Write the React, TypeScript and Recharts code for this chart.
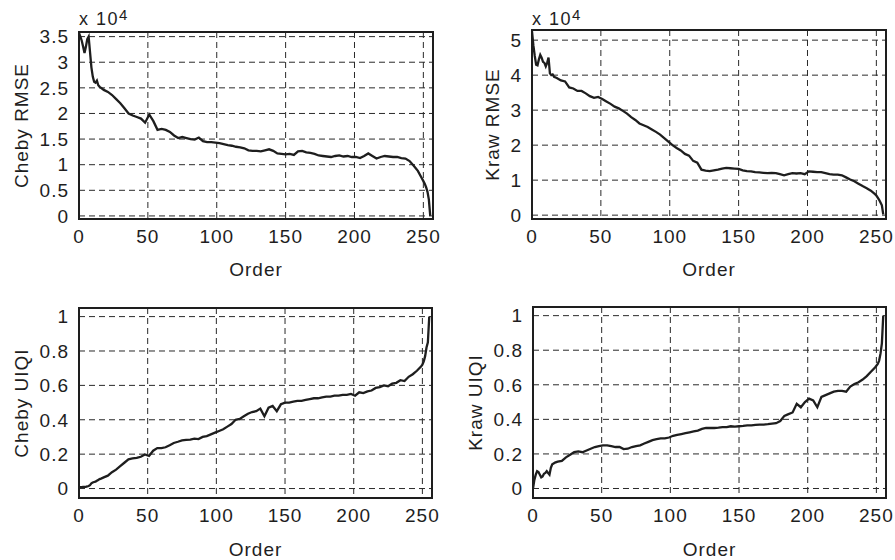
import { LineChart, Line, XAxis, YAxis, CartesianGrid, ReferenceArea } from 'recharts'

const ORDERS = [
  0, 1, 2, 3, 4, 5, 6, 7, 8, 9, 10, 11, 12, 13, 14, 15, 16,
  18, 21, 24, 27, 30, 33, 36, 39, 42, 45, 48, 51, 54, 57, 60, 63, 66, 69, 72, 75, 78,
  81, 84, 87, 90, 93, 96, 99, 102, 105, 108, 111, 114, 117, 120, 123, 126, 129, 132,
  135, 138, 141, 144, 147, 150, 153, 156, 159, 162, 165, 168, 171, 174, 177, 180, 183,
  186, 189, 192, 195, 198, 201, 204, 207, 210, 213, 216, 219, 222, 225, 228, 231, 234,
  237, 240, 243, 246, 249,
  250, 251, 252, 253, 254, 255,
]

// RMSE values are in units of 10^4
const CHEBY_RMSE = [
  3.57, 3.5, 3.42, 3.3, 3.18, 3.3, 3.45, 3.5, 3.2, 2.9, 2.72, 2.62, 2.6, 2.64, 2.55, 2.52, 2.5,
  2.46, 2.42, 2.36, 2.28, 2.2, 2.1, 2.0, 1.96, 1.93, 1.9, 1.82, 1.98, 1.85, 1.68, 1.7, 1.68, 1.64, 1.57, 1.52, 1.54, 1.52,
  1.5, 1.49, 1.53, 1.46, 1.44, 1.44, 1.43, 1.42, 1.4, 1.38, 1.37, 1.35, 1.34, 1.32, 1.28, 1.27, 1.27, 1.26,
  1.28, 1.3, 1.27, 1.22, 1.21, 1.2, 1.21, 1.19, 1.26, 1.27, 1.24, 1.23, 1.21, 1.18, 1.17, 1.16, 1.15,
  1.17, 1.18, 1.16, 1.17, 1.15, 1.15, 1.13, 1.17, 1.22, 1.17, 1.12, 1.15, 1.17, 1.16, 1.15, 1.15, 1.13,
  1.12, 1.07, 0.98, 0.88, 0.73,
  0.68, 0.63, 0.56, 0.47, 0.32, 0.0,
]

const KRAW_RMSE = [
  5.25, 4.85, 4.55, 4.3, 4.28, 4.45, 4.58, 4.5, 4.38, 4.35, 4.25, 4.35, 4.5, 4.05, 4.0, 4.02, 3.95,
  3.92, 3.85, 3.82, 3.65, 3.62, 3.55, 3.55, 3.48, 3.4, 3.35, 3.38, 3.32, 3.25, 3.18, 3.1, 3.05, 2.98, 2.9, 2.8, 2.72, 2.62,
  2.57, 2.52, 2.45, 2.38, 2.3, 2.2, 2.1, 2.0, 1.92, 1.85, 1.75, 1.7, 1.55, 1.5, 1.3, 1.27, 1.26, 1.28,
  1.3, 1.33, 1.35, 1.34, 1.33, 1.32, 1.28, 1.26, 1.25, 1.23, 1.22, 1.21, 1.2, 1.21, 1.2, 1.17, 1.14,
  1.17, 1.2, 1.19, 1.2, 1.17, 1.25, 1.24, 1.23, 1.23, 1.2, 1.17, 1.16, 1.16, 1.14, 1.08, 1.02, 0.97,
  0.9, 0.83, 0.77, 0.7, 0.6,
  0.56, 0.5, 0.44, 0.36, 0.28, 0.02,
]

const CHEBY_UIQI = [
  0.005, 0.008, 0.008, 0.01, 0.01, 0.01, 0.012, 0.015, 0.02, 0.03, 0.035, 0.038, 0.04, 0.045, 0.05, 0.055, 0.058,
  0.065, 0.075, 0.095, 0.11, 0.13, 0.15, 0.17, 0.175, 0.178, 0.185, 0.198, 0.19, 0.22, 0.235, 0.235, 0.24, 0.252, 0.265, 0.272, 0.28, 0.283,
  0.285, 0.29, 0.288, 0.3, 0.305, 0.315, 0.325, 0.335, 0.345, 0.36, 0.375, 0.4, 0.405, 0.42, 0.435, 0.445, 0.45, 0.465,
  0.42, 0.47, 0.48, 0.45, 0.49, 0.5, 0.5, 0.505, 0.51, 0.51, 0.515, 0.52, 0.525, 0.525, 0.53, 0.535, 0.535,
  0.54, 0.54, 0.545, 0.545, 0.55, 0.54, 0.56, 0.555, 0.565, 0.57, 0.585, 0.59, 0.6, 0.595, 0.61, 0.615, 0.63,
  0.625, 0.65, 0.665, 0.685, 0.71,
  0.72, 0.74, 0.77, 0.82, 0.85, 1.0,
]

const KRAW_UIQI = [
  0.0, 0.05, 0.08, 0.1, 0.095, 0.08, 0.065, 0.07, 0.085, 0.09, 0.1, 0.09, 0.08, 0.12, 0.14, 0.145, 0.15,
  0.155, 0.16, 0.18, 0.195, 0.21, 0.215, 0.21, 0.22, 0.23, 0.24, 0.245, 0.25, 0.25, 0.245, 0.24, 0.24, 0.228, 0.23, 0.24, 0.245, 0.25,
  0.26, 0.27, 0.28, 0.285, 0.29, 0.29, 0.295, 0.305, 0.31, 0.315, 0.32, 0.325, 0.33, 0.335, 0.345, 0.35, 0.35, 0.35,
  0.352, 0.355, 0.355, 0.36, 0.358, 0.36, 0.362, 0.365, 0.365, 0.368, 0.37, 0.37, 0.372, 0.375, 0.378, 0.39, 0.42,
  0.43, 0.44, 0.49, 0.47, 0.5, 0.52, 0.51, 0.47, 0.53, 0.54, 0.55, 0.56, 0.565, 0.565, 0.56, 0.59, 0.605,
  0.615, 0.63, 0.65, 0.675, 0.7,
  0.71, 0.72, 0.74, 0.78, 0.84, 1.0,
]

const X_TICKS = [0, 50, 100, 150, 200, 250]
const CHEBY_RMSE_TICKS = [0, 0.5, 1, 1.5, 2, 2.5, 3, 3.5]
const KRAW_RMSE_TICKS = [0, 1, 2, 3, 4, 5]
const UIQI_TICKS = [0, 0.2, 0.4, 0.6, 0.8, 1]

const FONT = '"Liberation Sans", Arial, Helvetica, sans-serif'
const INK = '#1e1e1e'
const tickStyle = { fill: INK, fontSize: 19, fontFamily: FONT, letterSpacing: 1 }

interface PanelProps {
  left: number
  top: number
  width: number
  values: number[]
  yLabel: string
  yTicks: number[]
  yDomain: [number, number]
  marginTop: number
  marginRight: number
  yAxisWidth: number
  xAxisHeight: number
  yLabelOffset: number
  exponent?: boolean
}

function Panel(props: PanelProps) {
  const data = ORDERS.map((order, i) => ({ order, value: props.values[i] }))
  const height = 280
  return (
    <div style={{ position: 'absolute', left: props.left, top: props.top, width: props.width, height }}>
      <LineChart
        width={props.width}
        height={height}
        data={data}
        margin={{ top: props.marginTop, right: props.marginRight, bottom: 0, left: 0 }}
      >
        <CartesianGrid stroke="#2a2a2a" strokeDasharray="6 4" strokeWidth={1} />
        <XAxis
          dataKey="order"
          type="number"
          domain={[0, 257]}
          ticks={X_TICKS}
          interval={0}
          allowDataOverflow
          axisLine={false}
          tickLine={false}
          tickMargin={5}
          height={props.xAxisHeight}
          tick={tickStyle}
          label={{ value: 'Order', position: 'insideBottom', offset: 4, style: { ...tickStyle } }}
        />
        <YAxis
          type="number"
          domain={props.yDomain}
          ticks={props.yTicks}
          interval={0}
          allowDataOverflow
          axisLine={false}
          tickLine={false}
          tickMargin={4}
          width={props.yAxisWidth}
          tick={tickStyle}
          label={{
            value: props.yLabel,
            angle: -90,
            position: 'insideLeft',
            offset: props.yLabelOffset,
            style: { ...tickStyle, textAnchor: 'middle' },
          }}
        />
        <ReferenceArea
          x1={0}
          x2={257}
          y1={props.yDomain[0]}
          y2={props.yDomain[1]}
          fill="none"
          stroke={INK}
          strokeWidth={2}
        />
        <Line
          type="linear"
          dataKey="value"
          stroke={INK}
          strokeWidth={2.3}
          dot={false}
          isAnimationActive={false}
        />
      </LineChart>
      {props.exponent && (
        <svg
          width={props.width}
          height={40}
          style={{ position: 'absolute', left: 0, top: 0, pointerEvents: 'none' }}
        >
          <text x={props.yAxisWidth} y={25} fill={INK} fontSize={18} fontFamily={FONT} letterSpacing={1.5}>
            x 10
            <tspan dy={-5} fontSize={15}>4</tspan>
          </text>
        </svg>
      )}
    </div>
  )
}

export default function App() {
  return (
    <div style={{ position: 'absolute', left: 0, top: 0, width: 895, height: 560, background: '#fff' }}>
      <Panel
        left={0}
        top={0}
        width={447}
        values={CHEBY_RMSE}
        yLabel="Cheby RMSE"
        yTicks={CHEBY_RMSE_TICKS}
        yDomain={[-0.06, 3.59]}
        marginTop={32}
        marginRight={14}
        yAxisWidth={79}
        xAxisHeight={61}
        yLabelOffset={21}
        exponent
      />
      <Panel
        left={450}
        top={0}
        width={445}
        values={KRAW_RMSE}
        yLabel="Kraw RMSE"
        yTicks={KRAW_RMSE_TICKS}
        yDomain={[-0.11, 5.29]}
        marginTop={30}
        marginRight={9}
        yAxisWidth={82}
        xAxisHeight={61}
        yLabelOffset={42}
        exponent
      />
      <Panel
        left={0}
        top={280}
        width={447}
        values={CHEBY_UIQI}
        yLabel="Cheby UIQI"
        yTicks={UIQI_TICKS}
        yDomain={[-0.055, 1.05]}
        marginTop={28}
        marginRight={15}
        yAxisWidth={79}
        xAxisHeight={62}
        yLabelOffset={21}
      />
      <Panel
        left={450}
        top={280}
        width={445}
        values={KRAW_UIQI}
        yLabel="Kraw UIQI"
        yTicks={UIQI_TICKS}
        yDomain={[-0.055, 1.05]}
        marginTop={27}
        marginRight={9}
        yAxisWidth={83}
        xAxisHeight={62}
        yLabelOffset={25}
      />
    </div>
  )
}
